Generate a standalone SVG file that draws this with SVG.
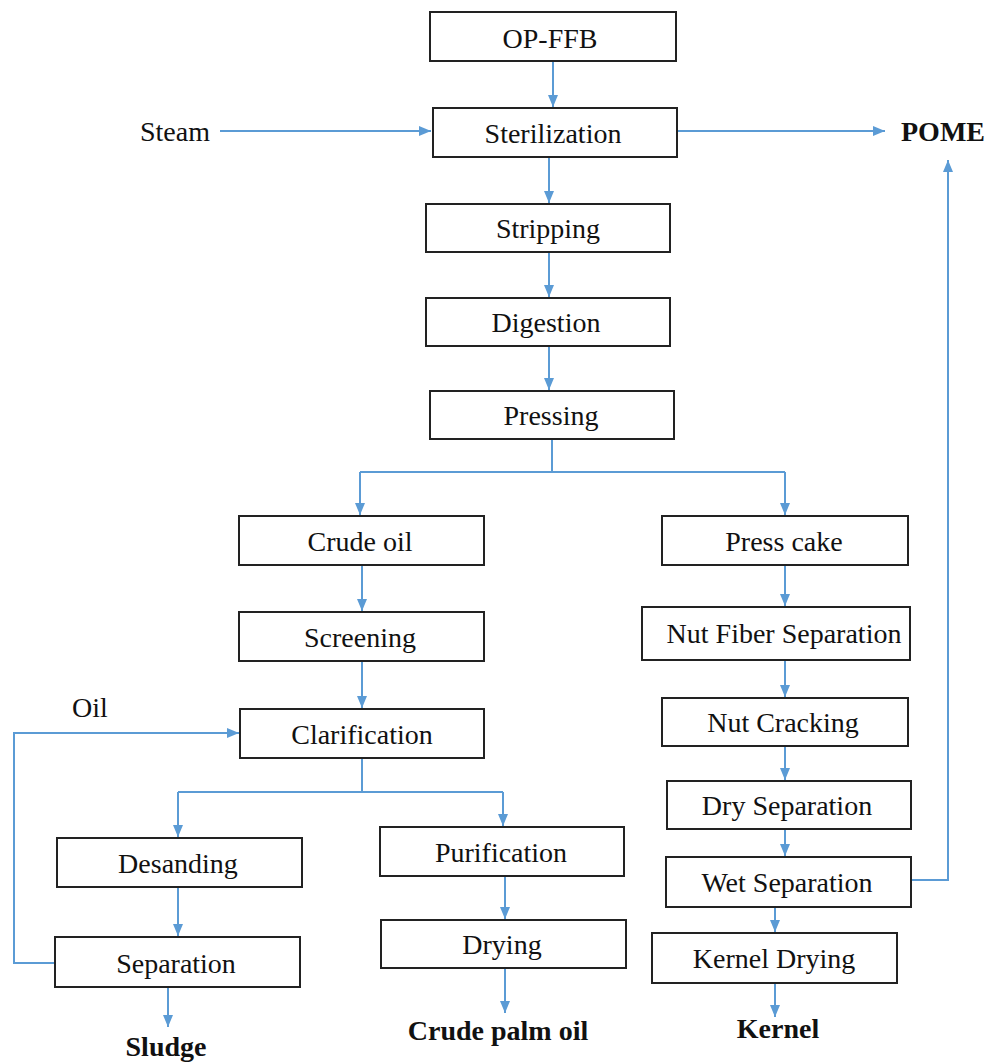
<svg xmlns="http://www.w3.org/2000/svg" width="987" height="1062" viewBox="0 0 987 1062">
<style>
.box{fill:#fff;stroke:#222;stroke-width:2}
.t{font-family:"Liberation Serif","Times New Roman",serif;font-size:28px;fill:#111;text-anchor:middle;dominant-baseline:central}
.b{font-weight:bold}
.c{fill:none;stroke:#5b9bd5;stroke-width:2}
</style>
<defs>
<marker id="a" viewBox="0 0 12 10" refX="12" refY="5" markerWidth="12" markerHeight="11" markerUnits="userSpaceOnUse" orient="auto">
<path d="M0,0 L12,5 L0,10 z" fill="#5b9bd5"/>
</marker>
</defs>
<rect width="987" height="1062" fill="#fff"/>
<g id="connectors">
<path class="c" marker-end="url(#a)" d="M553,61 V107"/>
<path class="c" marker-end="url(#a)" d="M220,131 H431"/>
<path class="c" marker-end="url(#a)" d="M677,131 H885"/>
<path class="c" marker-end="url(#a)" d="M549,157 V203"/>
<path class="c" marker-end="url(#a)" d="M549,252 V297"/>
<path class="c" marker-end="url(#a)" d="M549,346 V390"/>
<path class="c" d="M552,439 V472 M360,472 H785"/>
<path class="c" marker-end="url(#a)" d="M360,472 V515"/>
<path class="c" marker-end="url(#a)" d="M785,472 V515"/>
<path class="c" marker-end="url(#a)" d="M362,565 V611"/>
<path class="c" marker-end="url(#a)" d="M362,661 V708"/>
<path class="c" d="M362,758 V792 M178,792 H503"/>
<path class="c" marker-end="url(#a)" d="M178,792 V837"/>
<path class="c" marker-end="url(#a)" d="M503,792 V826"/>
<path class="c" marker-end="url(#a)" d="M178,887 V936"/>
<path class="c" marker-end="url(#a)" d="M55,963 H14 V733 H239"/>
<path class="c" marker-end="url(#a)" d="M168,987 V1027"/>
<path class="c" marker-end="url(#a)" d="M505,876 V919"/>
<path class="c" marker-end="url(#a)" d="M505,968 V1013"/>
<path class="c" marker-end="url(#a)" d="M785,565 V606"/>
<path class="c" marker-end="url(#a)" d="M785,660 V697"/>
<path class="c" marker-end="url(#a)" d="M785,746 V780"/>
<path class="c" marker-end="url(#a)" d="M785,829 V856"/>
<path class="c" marker-end="url(#a)" d="M775,907 V932"/>
<path class="c" marker-end="url(#a)" d="M775,983 V1017"/>
<path class="c" marker-end="url(#a)" d="M911,880 H948 V160"/>
</g>
<g id="n-opffb"><rect class="box" x="430" y="12" width="246" height="49"/><text class="t" x="550" y="38">OP-FFB</text></g>
<g id="n-steril"><rect class="box" x="433" y="108" width="244" height="49"/><text class="t" x="553" y="133">Sterilization</text></g>
<g id="n-strip"><rect class="box" x="426" y="204" width="244" height="48"/><text class="t" x="548" y="228">Stripping</text></g>
<g id="n-digest"><rect class="box" x="426" y="298" width="244" height="48"/><text class="t" x="546" y="322">Digestion</text></g>
<g id="n-press"><rect class="box" x="430" y="391" width="244" height="48"/><text class="t" x="551" y="415">Pressing</text></g>
<g id="n-crude"><rect class="box" x="239" y="516" width="245" height="49"/><text class="t" x="360" y="541">Crude oil</text></g>
<g id="n-cake"><rect class="box" x="662" y="516" width="246" height="49"/><text class="t" x="784" y="541">Press cake</text></g>
<g id="n-screen"><rect class="box" x="239" y="612" width="245" height="49"/><text class="t" x="360" y="637">Screening</text></g>
<g id="n-nfs"><rect class="box" x="642" y="607" width="268" height="53"/><text class="t" x="784" y="633">Nut Fiber Separation</text></g>
<g id="n-clar"><rect class="box" x="240" y="709" width="244" height="49"/><text class="t" x="362" y="734">Clarification</text></g>
<g id="n-crack"><rect class="box" x="662" y="698" width="246" height="48"/><text class="t" x="783" y="722">Nut Cracking</text></g>
<g id="n-dry"><rect class="box" x="667" y="781" width="244" height="48"/><text class="t" x="787" y="805">Dry Separation</text></g>
<g id="n-wet"><rect class="box" x="666" y="857" width="245" height="50"/><text class="t" x="787" y="882">Wet Separation</text></g>
<g id="n-kdry"><rect class="box" x="652" y="933" width="245" height="50"/><text class="t" x="774" y="958">Kernel Drying</text></g>
<g id="n-desand"><rect class="box" x="57" y="838" width="245" height="49"/><text class="t" x="178" y="863">Desanding</text></g>
<g id="n-sep"><rect class="box" x="55" y="937" width="245" height="50"/><text class="t" x="176" y="963">Separation</text></g>
<g id="n-purif"><rect class="box" x="380" y="827" width="244" height="49"/><text class="t" x="501" y="852">Purification</text></g>
<g id="n-drying"><rect class="box" x="381" y="920" width="245" height="48"/><text class="t" x="502" y="944">Drying</text></g>
<g id="labels">
<text class="t" x="175" y="131">Steam</text>
<text class="t b" x="943" y="131">POME</text>
<text class="t" x="90" y="707">Oil</text>
<text class="t b" x="166" y="1046">Sludge</text>
<text class="t b" x="498" y="1030">Crude palm oil</text>
<text class="t b" x="778" y="1028">Kernel</text>
</g>
</svg>
